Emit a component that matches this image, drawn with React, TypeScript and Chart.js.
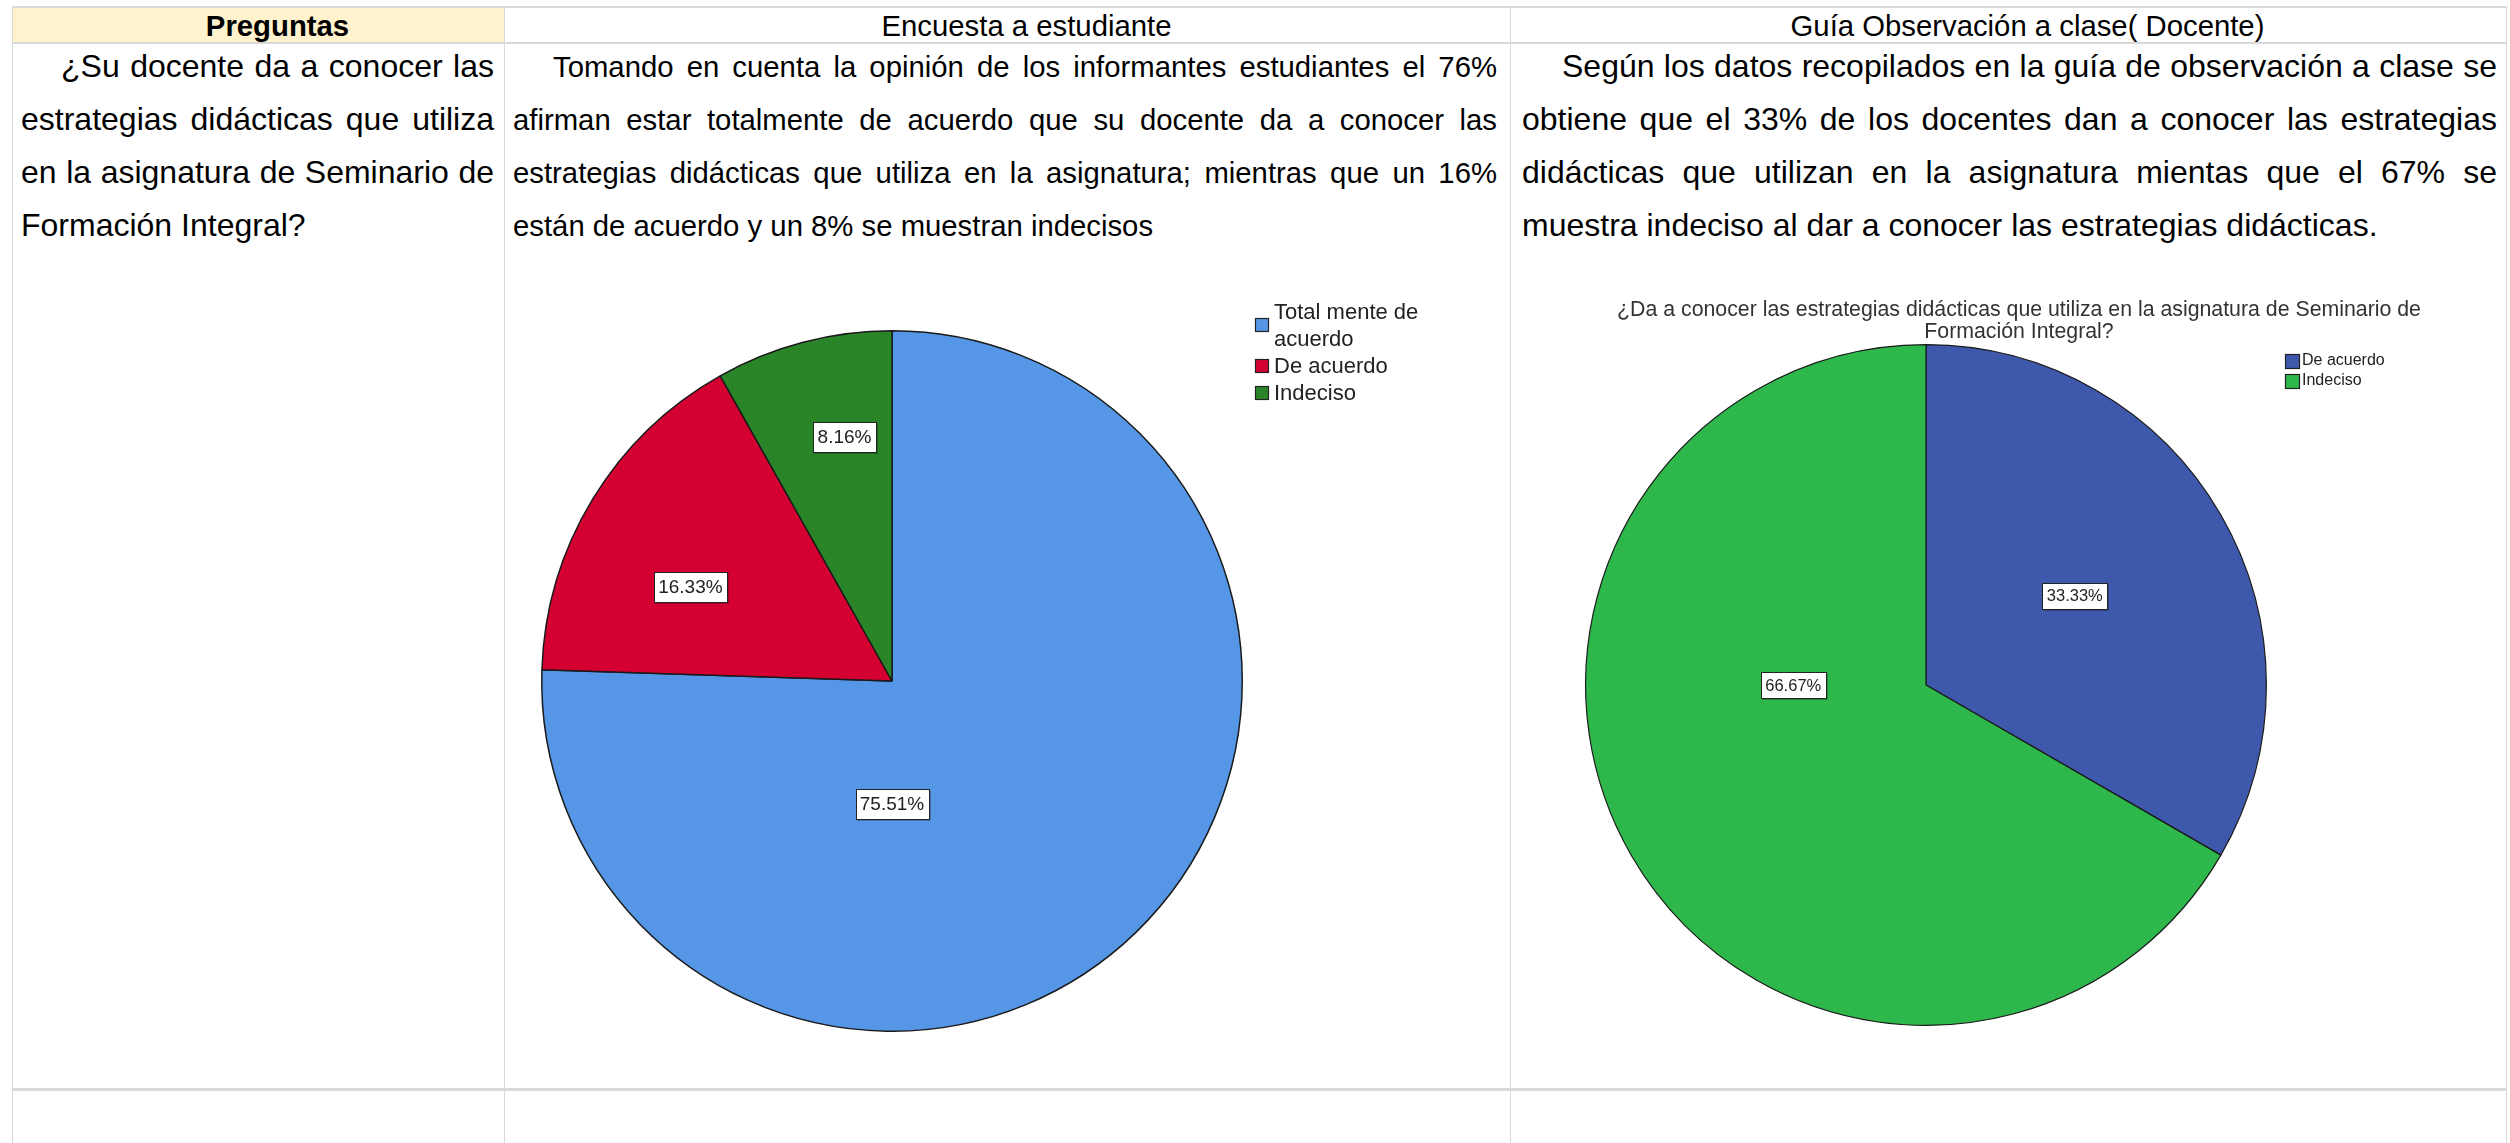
import React, { useEffect, useRef } from 'react';
import { Chart, registerables } from 'chart.js';

Chart.register(...registerables);

const FONT = '"Liberation Sans", Arial, Helvetica, sans-serif';

// ---------- table texts ----------
const headerLabels = ['Preguntas', 'Encuesta a estudiante', 'Guía Observación a clase( Docente)'];
const questionLines = [
  '¿Su docente da a conocer las',
  'estrategias didácticas que utiliza',
  'en la asignatura de Seminario de',
  'Formación Integral?',
];
const studentTextLines = [
  'Tomando en cuenta la opinión de los informantes estudiantes el 76%',
  'afirman estar totalmente de acuerdo que su docente da a conocer las',
  'estrategias didácticas que utiliza en la asignatura; mientras que un 16%',
  'están de acuerdo y un 8% se muestran indecisos',
];
const teacherTextLines = [
  'Según los datos recopilados en la guía de observación a clase se',
  'obtiene que el 33% de los docentes dan a conocer las estrategias',
  'didácticas que utilizan en la asignatura mientas que el 67% se',
  'muestra indeciso al dar a conocer las estrategias didácticas.',
];

// ---------- chart 1: encuesta a estudiantes ----------
const studentCategories = [['Total mente de', 'acuerdo'], ['De acuerdo'], ['Indeciso']];
const studentPercents = [75.51, 16.33, 8.16];
const studentColors = ['#5596E6', '#D50032', '#2A8529'];

// ---------- chart 2: guía de observación (docente) ----------
const teacherTitleLines = [
  '¿Da a conocer las estrategias didácticas que utiliza en la asignatura de Seminario de',
  'Formación Integral?',
];
const teacherCategories = [['De acuerdo'], ['Indeciso']];
const teacherPercents = [33.33, 66.67];
const teacherColors = ['#3E58AC', '#2EB84B'];

const spssPlugin = {
  id: 'spss',
  afterDatasetsDraw(chart: any, _args: any, opts: any) {
    const ctx = chart.ctx;
    const meta = chart.getDatasetMeta(0);
    const ds = chart.data.datasets[0];
    meta.data.forEach((arc: any, i: number) => {
      const { x, y, outerRadius } = arc.getProps(['x', 'y', 'outerRadius'], true);
      const p = opts.labelPlacement[i];
      const a = ((p.angle - 90) * Math.PI) / 180;
      const lx = x + Math.cos(a) * outerRadius * p.radius;
      const ly = y + Math.sin(a) * outerRadius * p.radius;
      const text = `${Number(ds.data[i]).toFixed(2)}%`;
      ctx.save();
      ctx.font = `${opts.labelFontSize}px ${FONT}`;
      const w = Math.round(ctx.measureText(text).width + 2 * opts.labelPadX);
      const h = opts.labelBoxHeight;
      const bx = Math.round(lx - w / 2) + 0.5;
      const by = Math.round(ly - h / 2) + 0.5;
      ctx.fillStyle = 'rgba(0,0,0,0.5)';
      ctx.fillRect(bx + 1, by + 1, w, h);
      ctx.fillStyle = '#ffffff';
      ctx.fillRect(bx, by, w, h);
      ctx.strokeStyle = '#222';
      ctx.lineWidth = 1;
      ctx.strokeRect(bx, by, w, h);
      ctx.fillStyle = '#222';
      ctx.textAlign = 'center';
      ctx.textBaseline = 'middle';
      ctx.fillText(text, lx, ly + 1);
      ctx.restore();
    });
  },
  afterDraw(chart: any, _args: any, opts: any) {
    const ctx = chart.ctx;
    const ds = chart.data.datasets[0];
    // legend
    const lg = opts.legend;
    ctx.save();
    ctx.font = `${lg.fontSize}px ${FONT}`;
    ctx.textBaseline = 'middle';
    ctx.textAlign = 'left';
    let yLine = lg.y;
    chart.data.labels.forEach((lab: any, i: number) => {
      const lines = Array.isArray(lab) ? lab : [lab];
      const centers: number[] = [];
      lines.forEach((ln: string) => {
        ctx.fillStyle = lg.color;
        ctx.fillText(ln, lg.textX, yLine);
        centers.push(yLine);
        yLine += lg.lineHeight;
      });
      const cy = (centers[0] + centers[centers.length - 1]) / 2 + lg.boxShift;
      const s = lg.boxSize;
      const bx = Math.round(lg.boxX) + 0.5;
      const by = Math.round(cy - s / 2) + 0.5;
      ctx.fillStyle = ds.backgroundColor[i];
      ctx.fillRect(bx, by, s, s);
      ctx.strokeStyle = '#222';
      ctx.lineWidth = 1.2;
      ctx.strokeRect(bx, by, s, s);
    });
    // title
    const t = opts.title;
    if (t && t.lines.length) {
      ctx.font = `${t.fontSize}px ${FONT}`;
      ctx.fillStyle = t.color;
      ctx.textAlign = 'center';
      t.lines.forEach((ln: string, k: number) => {
        ctx.fillText(ln, t.x, t.y + k * t.lineHeight);
      });
    }
    ctx.restore();
  },
};

function PieChart(props: {
  left: number; top: number; width: number; height: number;
  labels: any[]; values: number[]; colors: string[];
  padding: any; borderWidth: number; spss: any;
}) {
  const ref = useRef<HTMLCanvasElement>(null);
  useEffect(() => {
    if (!ref.current) return;
    const chart = new Chart(ref.current, {
      type: 'pie',
      data: {
        labels: props.labels,
        datasets: [
          {
            data: props.values,
            backgroundColor: props.colors,
            borderColor: '#1a1a1a',
            borderWidth: props.borderWidth,
          },
        ],
      },
      options: {
        animation: false,
        responsive: false,
        maintainAspectRatio: false,
        layout: { padding: props.padding },
        plugins: {
          legend: { display: false },
          tooltip: { enabled: false },
          title: { display: false },
          spss: props.spss,
        } as any,
      },
      plugins: [spssPlugin as any],
    });
    return () => chart.destroy();
  }, []);
  return (
    <canvas
      ref={ref}
      width={props.width}
      height={props.height}
      style={{ position: 'absolute', left: props.left, top: props.top, width: props.width, height: props.height }}
    />
  );
}

const LINE_H = 53.3;

function TextBlock(props: { left: number; width: number; top: number; lines: string[]; fontSize: number }) {
  return (
    <div style={{ position: 'absolute', left: props.left, top: props.top, width: props.width, fontSize: props.fontSize }}>
      {props.lines.map((ln, i) => {
        const last = i === props.lines.length - 1;
        return (
          <div
            key={i}
            style={{
              height: LINE_H,
              lineHeight: `${LINE_H}px`,
              whiteSpace: 'nowrap',
              textAlign: 'justify',
              textAlignLast: last ? 'left' : 'justify',
              textIndent: i === 0 ? 40 : 0,
            } as any}
          >
            {ln}
          </div>
        );
      })}
    </div>
  );
}

const LINE_COLOR = '#d9d9d9';

export default function App() {
  const hLine = (y: number, h: number) => (
    <div style={{ position: 'absolute', left: 12, width: 2495, top: y, height: h, background: LINE_COLOR }} />
  );
  const vLine = (x: number) => (
    <div style={{ position: 'absolute', left: x, width: 1, top: 6, height: 1137, background: LINE_COLOR }} />
  );
  const headStyle = (left: number, width: number, bold: boolean) => ({
    position: 'absolute' as const, left, top: 8, width, height: 34, lineHeight: '36px', textAlign: 'center' as const,
    fontSize: 29.3, fontWeight: bold ? 'bold' : 'normal', paddingLeft: 38, boxSizing: 'border-box' as const,
  });
  return (
    <div
      style={{
        position: 'absolute', left: 0, top: 0, width: 2510, height: 1143, background: '#ffffff',
        overflow: 'hidden', fontFamily: FONT, color: '#000', fontSize: 30,
      }}
    >
      <div style={{ position: 'absolute', left: 13, top: 8, width: 491, height: 34, background: '#FFF2CC' }} />
      {hLine(6, 2)}
      {hLine(42, 2)}
      {hLine(1088, 3)}
      {vLine(12)}
      {vLine(504)}
      {vLine(1510)}
      {vLine(2506)}

      <div style={headStyle(13, 491, true)}>{headerLabels[0]}</div>
      <div style={headStyle(505, 1005, false)}>{headerLabels[1]}</div>
      <div style={headStyle(1511, 995, false)}>{headerLabels[2]}</div>

      <TextBlock left={21} width={473} top={39.5} fontSize={32} lines={questionLines} />
      <TextBlock left={513} width={984} top={39.5} fontSize={29.3} lines={studentTextLines} />
      <TextBlock left={1522} width={975} top={39.5} fontSize={32} lines={teacherTextLines} />

      <PieChart
        left={506}
        top={262}
        width={1003}
        height={826}
        labels={studentCategories}
        values={studentPercents}
        colors={studentColors}
        borderWidth={1.5}
        padding={{ left: 35, right: 266, top: 68, bottom: 56 }}
        spss={{
          labelPlacement: [
            { angle: 180, radius: 0.35 },
            { angle: 295, radius: 0.635 },
            { angle: 349, radius: 0.71 },
          ],
          labelFontSize: 19,
          labelPadX: 4.5,
          labelBoxHeight: 30,
          legend: { boxX: 749, textX: 768, y: 51, lineHeight: 27, fontSize: 22, boxSize: 13, boxShift: -2, color: '#222' },
          title: { lines: [], x: 0, y: 0, lineHeight: 0, fontSize: 0, color: '#222' },
        }}
      />

      <PieChart
        left={1512}
        top={262}
        width={994}
        height={826}
        labels={teacherCategories}
        values={teacherPercents}
        colors={teacherColors}
        borderWidth={1.2}
        padding={{ left: 73, right: 239, top: 82, bottom: 62 }}
        spss={{
          labelPlacement: [
            { angle: 59, radius: 0.51 },
            { angle: 270, radius: 0.39 },
          ],
          labelFontSize: 16.5,
          labelPadX: 4.5,
          labelBoxHeight: 26,
          legend: { boxX: 773, textX: 790, y: 99, lineHeight: 20, fontSize: 16, boxSize: 14, boxShift: 0, color: '#222' },
          title: { lines: teacherTitleLines, x: 507, y: 48, lineHeight: 22, fontSize: 21.3, color: '#333' },
        }}
      />
    </div>
  );
}
